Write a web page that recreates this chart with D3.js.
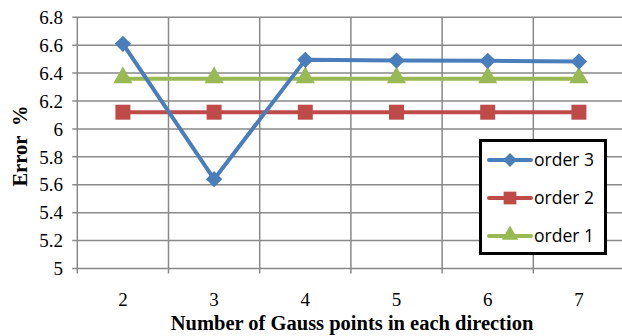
<!DOCTYPE html>
<html><head><meta charset="utf-8">
<script src="https://cdn.jsdelivr.net/npm/d3@7"></script>
<style>body{margin:0;background:#fff}svg{display:block}</style>
</head><body>
<script>
const categories = ["2","3","4","5","6","7"];
const order3 = [6.61, 5.64, 6.495, 6.49, 6.488, 6.483];
const order2 = [6.12, 6.12, 6.12, 6.12, 6.12, 6.12];
const order1 = [6.36, 6.36, 6.36, 6.36, 6.36, 6.36];
const yTicks = [5, 5.2, 5.4, 5.6, 5.8, 6, 6.2, 6.4, 6.6, 6.8];
const seriesNames = ["order 3", "order 2", "order 1"];

const W = 622, H = 336;
const m = {left: 77.3, top: 17.3, right: 624.5, bottom: 268.5};
const svg = d3.select("body").append("svg").attr("width", W).attr("height", H);

const x = d3.scaleBand().domain(categories).range([m.left, m.right]);
const y = d3.scaleLinear().domain([5, 6.8]).range([m.bottom, m.top]);
const grid = "#898989";

svg.append("g").selectAll("line").data(yTicks).join("line")
  .attr("x1", m.left - 5).attr("x2", m.right)
  .attr("y1", d => y(d)).attr("y2", d => y(d))
  .attr("stroke", grid).attr("stroke-width", 1.5);
const bounds = categories.map(c => x(c)).concat([m.right]);
svg.append("g").selectAll("line").data(bounds).join("line")
  .attr("x1", d => d).attr("x2", d => d)
  .attr("y1", m.top).attr("y2", m.bottom + 5)
  .attr("stroke", grid).attr("stroke-width", 1.5);

svg.append("g").selectAll("text").data(yTicks).join("text")
  .attr("x", 63).attr("y", d => y(d)).attr("dy", "0.35em")
  .attr("text-anchor", "end")
  .attr("font-family", "Liberation Serif, Times New Roman, serif")
  .attr("font-size", 19).attr("fill", "#000")
  .text(d => d3.format("")(+d.toFixed(1)));
svg.append("g").selectAll("text").data(categories).join("text")
  .attr("x", d => x(d) + x.bandwidth()/2).attr("y", 306)
  .attr("text-anchor", "middle")
  .attr("font-family", "Liberation Serif, Times New Roman, serif")
  .attr("font-size", 19).attr("fill", "#000")
  .text(d => d);

svg.append("text")
  .attr("x", 352).attr("y", 330)
  .attr("text-anchor", "middle")
  .attr("font-family", "Liberation Serif, Times New Roman, serif")
  .attr("font-weight", "bold").attr("font-size", 20.5)
  .text("Number of Gauss points in each direction");
svg.append("text")
  .attr("transform", "translate(27,146) rotate(-90)")
  .attr("text-anchor", "middle")
  .attr("font-family", "Liberation Serif, Times New Roman, serif")
  .attr("font-weight", "bold").attr("font-size", 20.5)
  .style("white-space", "pre")
  .text("Error  %");

const colors = ["#4a7ebb", "#be4b48", "#98b954"];
const data = [order3, order2, order1];
const cx = d => x(d) + x.bandwidth()/2;
const line = d3.line().x((v, i) => cx(categories[i])).y(v => y(v));

const diamond = d3.symbol().type(d3.symbolDiamond2 || d3.symbolDiamond).size(170)();
const squarePath = d3.symbol().type(d3.symbolSquare).size(225)();
const triPath = d3.symbol().type(d3.symbolTriangle).size(160)();
const shapes = [diamond, squarePath, triPath];

[2, 1, 0].forEach(k => {
  const g = svg.append("g");
  g.append("path").datum(data[k]).attr("d", line)
    .attr("fill", "none").attr("stroke", colors[k]).attr("stroke-width", 4)
    .attr("stroke-linejoin", "round");
  g.selectAll("path.m").data(data[k]).join("path").attr("class", "m")
    .attr("d", shapes[k])
    .attr("transform", (v, i) => `translate(${cx(categories[i])},${y(v) + (k===2 ? -1 : 0)})`)
    .attr("fill", colors[k]);
});

const lg = svg.append("g");
lg.append("rect").attr("x", 480.5).attr("y", 140.5).attr("width", 125).attr("height", 113)
  .attr("fill", "#fff").attr("stroke", "#000").attr("stroke-width", 3);
const rows = [160, 198, 236];
seriesNames.forEach((n, k) => {
  lg.append("line").attr("x1", 489).attr("x2", 531).attr("y1", rows[k]).attr("y2", rows[k])
    .attr("stroke", colors[k]).attr("stroke-width", 4).attr("stroke-linecap", "round");
  lg.append("path").attr("d", shapes[k])
    .attr("transform", `translate(510,${rows[k] + (k===2 ? -1 : 0)}) scale(0.85)`)
    .attr("fill", colors[k]);
  lg.append("text").attr("x", 534).attr("y", rows[k]).attr("dy", "0.35em")
    .attr("font-family", "Open Sans, Liberation Sans, sans-serif")
    .attr("font-size", 17.5).attr("fill", "#000").text(n);
});
</script>
</body></html>
